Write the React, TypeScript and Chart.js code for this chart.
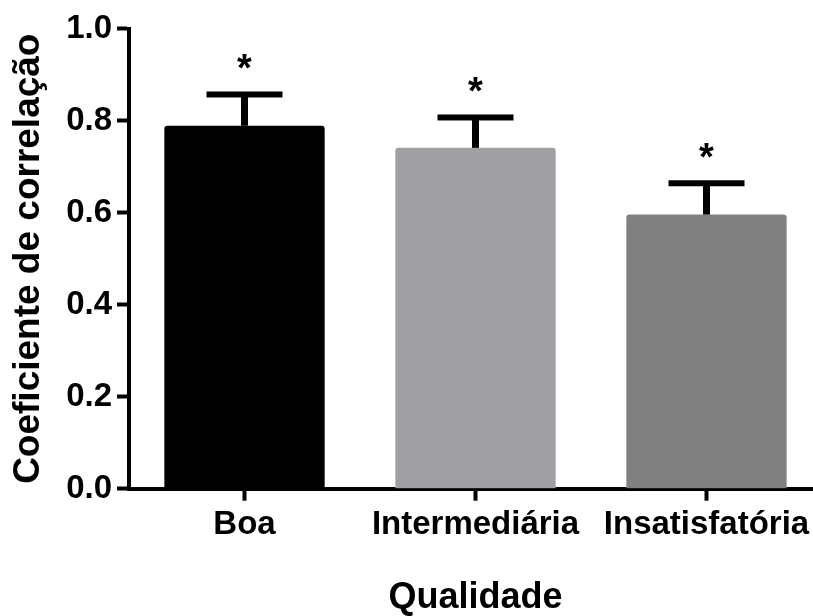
import React, { useEffect, useRef } from "react";
import { Chart, registerables } from "chart.js";

Chart.register(...registerables);

const categories = ["Boa", "Intermediária", "Insatisfatória"];
const means = [0.789, 0.741, 0.596];
const errorUpper = [0.857, 0.807, 0.664];
const significance = ["*", "*", "*"];
const barColors = ["#000000", "#a19fa4", "#808080"];
const yTicks = [0, 0.2, 0.4, 0.6, 0.8, 1.0];

const FONT = "'Liberation Sans', Arial, sans-serif";

const errorPlugin = {
  id: "errorBars",
  afterDatasetsDraw(chart: any) {
    const ctx = chart.ctx;
    const xs = chart.scales.x;
    const ys = chart.scales.y;
    ctx.save();
    ctx.fillStyle = "#000";
    for (let i = 0; i < categories.length; i++) {
      const cx = xs.getPixelForValue(i);
      const yMean = ys.getPixelForValue(means[i]);
      const yTop = ys.getPixelForValue(errorUpper[i]);
      // stem
      ctx.fillRect(cx - 3.5, yTop, 7, yMean - yTop);
      // cap
      ctx.fillRect(cx - 38, yTop - 3, 76, 6);
      // asterisk
      ctx.font = `bold 38px ${FONT}`;
      ctx.textAlign = "center";
      ctx.textBaseline = "alphabetic";
      ctx.fillText(significance[i], cx, yTop - 34 + 21);
    }
    ctx.restore();
  },
};

export default function App() {
  const ref = useRef<HTMLCanvasElement>(null);
  useEffect(() => {
    if (!ref.current) return;
    const chart = new Chart(ref.current, {
      type: "bar",
      data: {
        labels: categories,
        datasets: [
          {
            data: means,
            backgroundColor: barColors,
            borderWidth: 0,
            borderRadius: 3,
            borderSkipped: "bottom",
            barPercentage: 0.694,
            categoryPercentage: 1,
          },
        ],
      },
      options: {
        responsive: false,
        animation: false,
        devicePixelRatio: 1,
        layout: { padding: { top: 28.7, left: 0, right: 0, bottom: 0 } },
        plugins: { legend: { display: false }, tooltip: { enabled: false } },
        scales: {
          x: {
            type: "category",
            offset: true,
            grid: {
              offset: false,
              drawOnChartArea: false,
              drawTicks: true,
              tickLength: 12,
              tickWidth: 4,
              tickColor: "#000",
            },
            border: { display: true, width: 4, color: "#000" },
            ticks: {
              color: "#000",
              padding: 8,
              maxRotation: 0,
              autoSkip: false,
              font: { family: FONT, size: 33, weight: "bold", lineHeight: 1 },
            },
            title: {
              display: true,
              text: "Qualidade",
              color: "#000",
              padding: { top: 0, bottom: 0 },
              font: { family: FONT, size: 36, weight: "bold", lineHeight: 1 },
            },
            afterFit(scale: any) {
              scale.height = 127.3;
            },
          },
          y: {
            min: 0,
            max: 1,
            afterBuildTicks(scale: any) {
              scale.ticks = yTicks.map((v) => ({ value: v }));
            },
            grid: {
              drawOnChartArea: false,
              drawTicks: true,
              tickLength: 12,
              tickWidth: 4,
              tickColor: "#000",
            },
            border: { display: true, width: 4, color: "#000" },
            ticks: {
              color: "#000",
              padding: 5,
              callback: (v: any) => Number(v).toFixed(1),
              font: { family: FONT, size: 33, weight: "bold", lineHeight: 1 },
            },
            title: {
              display: true,
              text: "Coeficiente de correlação",
              color: "#000",
              padding: { top: 10, bottom: 0 },
              font: { family: FONT, size: 37, weight: "bold", lineHeight: 1 },
            },
            afterFit(scale: any) {
              scale.width = 129;
            },
          },
        },
      },
      plugins: [errorPlugin],
    });
    return () => chart.destroy();
  }, []);

  return (
    <div
      style={{
        position: "absolute",
        left: 0,
        top: 0,
        width: 813,
        height: 616,
        overflow: "hidden",
        background: "#fff",
      }}
    >
      <canvas ref={ref} width={822} height={616} style={{ display: "block" }} />
    </div>
  );
}
